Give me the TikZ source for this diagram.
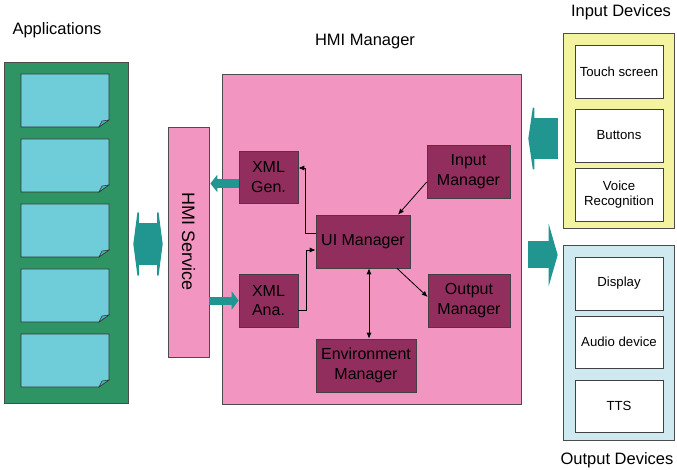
\documentclass[tikz,border=0pt]{standalone}
\usepackage{fontspec}
\setmainfont{Liberation Sans}
\usetikzlibrary{arrows.meta}
\definecolor{appgreen}{RGB}{46,148,100}
\definecolor{notecyan}{RGB}{110,205,216}
\definecolor{foldcyan}{RGB}{70,175,190}
\definecolor{arrowteal}{RGB}{33,150,145}
\definecolor{hmipink}{RGB}{242,150,193}
\definecolor{plum}{RGB}{145,46,94}
\definecolor{inyellow}{RGB}{243,243,160}
\definecolor{outblue}{RGB}{206,234,240}
\begin{document}
\begin{tikzpicture}[x=1pt,y=-1pt,
  panel/.style={draw=black!70, line width=0.6pt, inner sep=0pt},
  mgrbox/.style={draw=black!75, fill=plum, line width=0.6pt, align=center,
    inner sep=0pt, font=\fontsize{16}{19.5}\selectfont},
  devbox/.style={draw=black!75, fill=white, line width=0.6pt, align=center,
    inner sep=0pt, minimum width=88pt, font=\fontsize{13.2}{14.5}\selectfont},
  title/.style={font=\fontsize{16.5}{20}\selectfont},
  link/.style={line width=0.8pt, -{Latex[length=6pt,width=5pt]}},
  dlink/.style={line width=0.8pt, {Latex[length=6pt,width=5pt]}-{Latex[length=6pt,width=5pt]}},
  blk/.style={draw=arrowteal, line width=#1},
]
\useasboundingbox (0,0) rectangle (677,470);

% titles
\node[title] (tapps) at (57,30) {Applications};
\node[title] (tmgr) at (365,42) {HMI Manager};
\node[title] (tin) at (621,12) {Input Devices};
\node[title] (tout) at (617,460) {Output Devices};

% applications column with note sheets
\node[panel, fill=appgreen, minimum width=124pt, minimum height=341pt] (apps) at (66,232.5) {};
\foreach \t in {74,139,204,269,334}{
  \draw[fill=notecyan, draw=black!80, line width=0.6pt]
    (21,\t) -- (109,\t) -- (109,\t+46) -- (99,\t+53) -- (21,\t+53) -- cycle;
  \draw[fill=foldcyan, draw=black!80, line width=0.5pt]
    (99,\t+53) -- (102,\t+47) -- (109,\t+46) -- cycle;
}

% HMI service bar
\node[panel, fill=hmipink, minimum width=41pt, minimum height=230pt] (svc) at (188.5,242) {};
\node[rotate=-90, font=\fontsize{18}{20}\selectfont] (svctxt) at (svc.center) {HMI Service};

% HMI manager
\node[panel, fill=hmipink, minimum width=299pt, minimum height=330pt] (mgr) at (371.5,239) {};
\node[mgrbox, minimum width=59pt, minimum height=52pt] (gen) at (268.5,177) {XML\\Gen.};
\node[mgrbox, minimum width=59pt, minimum height=53pt] (ana) at (268.5,300.5) {XML\\Ana.};
\node[mgrbox, minimum width=94pt, minimum height=53pt] (ui) at (363,241.5) {UI Manager};
\node[mgrbox, minimum width=83pt, minimum height=53pt] (inp) at (468.5,171.5) {Input\\Manager};
\node[mgrbox, minimum width=82pt, minimum height=53pt] (outp) at (469,300.5) {Output\\Manager};
\node[mgrbox, minimum width=100pt, minimum height=53pt] (env) at (366,365.5) {Environment\\Manager};

% links inside the manager
\draw[link] ([yshift=8.5pt]ui.west) -- ++(-10,0) |- ([yshift=9pt]gen.east);
\draw[link] ([yshift=-9.5pt]ana.east) -- ++(8,0) |- ([yshift=-8.5pt]ui.west);
\draw[link] ([yshift=-10.5pt]inp.west) -- ([xshift=35pt]ui.north);
\draw[link] ([xshift=34pt]ui.south) -- ([yshift=3.5pt]outp.west);
\draw[dlink] ([xshift=6pt]ui.south) -- ([xshift=3pt]env.north);

% device panels
\node[panel, fill=inyellow, minimum width=111pt, minimum height=195pt] (inpanel) at (618.5,130.5) {};
\node[devbox, minimum height=53pt] (touch) at (619,71.5) {Touch screen};
\node[devbox, minimum height=53pt] (buttons) at (619,135.5) {Buttons};
\node[devbox, minimum height=53pt] (voice) at (619,194.5) {Voice\\Recognition};
\node[panel, fill=outblue, minimum width=111pt, minimum height=195pt] (outpanel) at (618.5,342.5) {};
\node[devbox, minimum height=53pt] (display) at (619,283.5) {Display};
\node[devbox, minimum height=52pt] (audio) at (619,342) {Audio device};
\node[devbox, minimum height=52pt] (tts) at (619,406) {TTS};

% block arrows
\coordinate (g0) at ([yshift=-6.5pt]gen.west);
\draw[blk=9pt, -{Triangle[length=7pt,width=17pt]}] (g0) -- ([xshift=1pt]svc.east |- g0);
\draw[blk=8pt, -{Triangle[length=7pt,width=18pt]}] (svc.east |- ana.west) -- (ana.west);
\coordinate (i0) at ([xshift=-5pt,yshift=-8pt]inpanel.west);
\draw[blk=41pt, -{Triangle[length=6pt,width=82pt]}] (i0) -- ([xshift=7pt]mgr.east |- i0);
\coordinate (o0) at ([xshift=7pt,yshift=-16pt]mgr.east);
\draw[blk=27pt, -{Triangle[length=9pt,width=62pt]}] (o0) -- ([xshift=-5pt]outpanel.west |- o0);
\coordinate (a0) at ([xshift=5pt,yshift=-11.5pt]apps.east);
\draw[blk=42pt, {Triangle[length=5.5pt,width=84pt]}-{Triangle[length=5.5pt,width=84pt]}]
  (a0) -- ([xshift=-5pt]svc.west |- a0);
\end{tikzpicture}
\end{document}
